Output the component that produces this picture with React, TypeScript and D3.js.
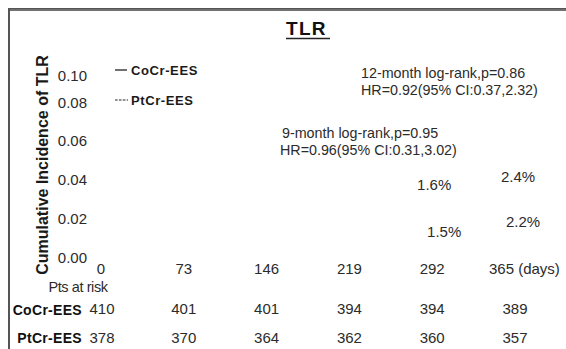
import React from "react";
import * as d3 from "d3";

// Follow-up time points (days) and patients at risk
const days = [0, 73, 146, 219, 292, 365];
const cocrAtRisk = [410, 401, 401, 394, 394, 389];
const ptcrAtRisk = [378, 370, 364, 362, 360, 357];

// Y-axis ticks (cumulative incidence)
const yTicks = [0, 0.02, 0.04, 0.06, 0.08, 0.1];

// Cumulative incidence at 9 and 12 months (percent)
const incidenceDays = [292, 365];
const cocrIncidence = [1.6, 2.4];
const ptcrIncidence = [1.5, 2.2];

// Statistics annotations
const stats12 = ["12-month log-rank,p=0.86", "HR=0.92(95% CI:0.37,2.32)"];
const stats9 = ["9-month log-rank,p=0.95", "HR=0.96(95% CI:0.31,3.02)"];

const W = 566;
const H = 349;
const FONT = "'Liberation Sans', Arial, sans-serif";
const INK = "#2b2b2b";

export default function App() {
  const x = d3.scaleLinear().domain([0, 365]).range([101, 515]);
  const y = d3.scaleLinear().domain([0, 0.08, 0.1]).range([257, 102, 75]);
  const fmt = d3.format(".2f");

  // vertical placement of the percentage labels (baselines)
  const cocrPctY = [190, 182];
  const cocrPctDx = [2, 3];
  const ptcrPctY = [237, 227];
  const ptcrPctDx = [12, 8];

  return (
    <svg
      width={W}
      height={H}
      style={{ position: "absolute", left: 0, top: 0, display: "block", background: "#fff" }}
      fontFamily={FONT}
    >
      {/* frame */}
      <rect x={8} y={8} width={W - 8} height={3} fill="#707070" />
      <rect x={8} y={8} width={W - 8} height={1} fill="#555" />
      <rect x={8} y={8} width={2} height={H - 8} fill="#555" />

      {/* title */}
      <text x={286} y={35} fontSize={19} fontWeight="bold" letterSpacing={1.3} fill="#111">
        TLR
      </text>
      <line x1={286} x2={330} y1={38.5} y2={38.5} stroke="#222" strokeWidth={1.5} />

      {/* y axis title */}
      <text
        transform={`translate(48,165) rotate(-90)`}
        textAnchor="middle"
        fontSize={16}
        fontWeight="bold"
        fill="#1a1a1a"
      >
        Cumulative Incidence of TLR
      </text>

      {/* y tick labels */}
      {yTicks.map((t) => (
        <text key={t} x={87} y={y(t) + 5.5} textAnchor="end" fontSize={15} fill={INK}>
          {fmt(t)}
        </text>
      ))}

      {/* legend */}
      <line x1={115} x2={127} y1={70} y2={70} stroke="#222" strokeWidth={1.3} />
      <text x={131} y={75} fontSize={13} fontWeight="bold" letterSpacing={0.6} fill="#1a1a1a">
        CoCr-EES
      </text>
      <line x1={115} x2={128} y1={100} y2={100} stroke="#222" strokeWidth={1.2} strokeDasharray="2.6,1.3" />
      <text x={131} y={105} fontSize={13} fontWeight="bold" letterSpacing={0.6} fill="#1a1a1a">
        PtCr-EES
      </text>

      {/* statistics */}
      {stats12.map((s, i) => (
        <text key={s} x={361} y={78 + i * 17} fontSize={14.3} fill={INK}>
          {s}
        </text>
      ))}
      {stats9.map((s, i) => (
        <text key={s} x={i === 0 ? 282 : 280} y={138 + i * 17} fontSize={14.3} fill={INK}>
          {s}
        </text>
      ))}

      {/* percentages */}
      {incidenceDays.map((d, i) => (
        <g key={d}>
          <text x={x(d) + cocrPctDx[i]} y={cocrPctY[i]} textAnchor="middle" fontSize={15} fill={INK}>
            {`${cocrIncidence[i].toFixed(1)}%`}
          </text>
          <text x={x(d) + ptcrPctDx[i]} y={ptcrPctY[i]} textAnchor="middle" fontSize={15} fill={INK}>
            {`${ptcrIncidence[i].toFixed(1)}%`}
          </text>
        </g>
      ))}

      {/* x tick labels */}
      {days.map((d, i) =>
        i === days.length - 1 ? (
          <text key={d} x={x(d) - 26} y={274} fontSize={15} fill={INK}>
            {`${d} (days)`}
          </text>
        ) : (
          <text key={d} x={x(d)} y={274} textAnchor="middle" fontSize={15} fill={INK}>
            {d}
          </text>
        )
      )}

      {/* numbers at risk */}
      <text x={78} y={292} textAnchor="middle" fontSize={14.5} letterSpacing={-0.4} fill={INK}>
        Pts at risk
      </text>
      <text x={82} y={315} textAnchor="end" fontSize={14} fontWeight="bold" letterSpacing={0.3} fill="#111">
        CoCr-EES
      </text>
      <text x={82} y={343} textAnchor="end" fontSize={14} fontWeight="bold" letterSpacing={0.3} fill="#111">
        PtCr-EES
      </text>
      {days.map((d, i) => (
        <g key={d}>
          <text x={x(d) + (i === 0 ? 1 : 0)} y={314} textAnchor="middle" fontSize={15} fill={INK}>
            {cocrAtRisk[i]}
          </text>
          <text x={x(d) + (i === 0 ? 1 : 0)} y={343} textAnchor="middle" fontSize={15} fill={INK}>
            {ptcrAtRisk[i]}
          </text>
        </g>
      ))}
    </svg>
  );
}
